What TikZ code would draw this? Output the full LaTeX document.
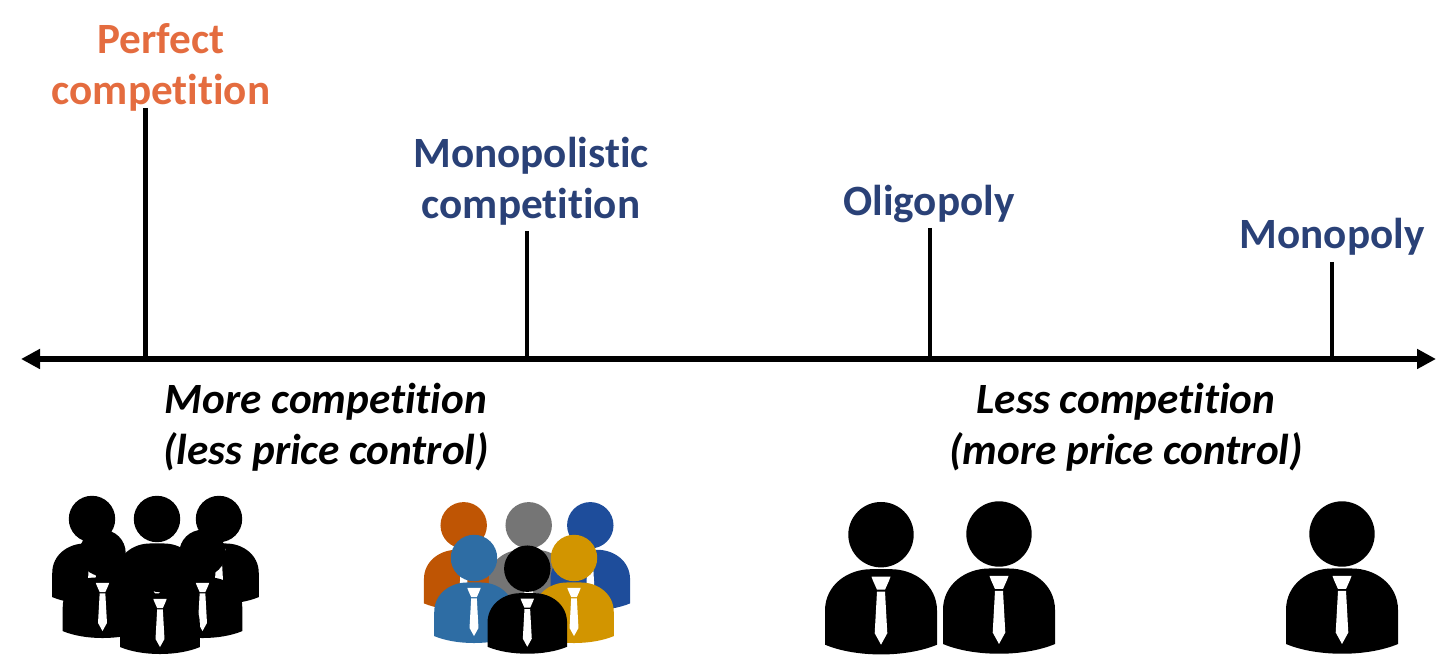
\documentclass[tikz,border=0pt]{standalone}
\usepackage{fontspec}
\setmainfont{Carlito}[Ligatures=NoCommon]
\usetikzlibrary{arrows.meta,positioning}

\definecolor{navy}{HTML}{2A4177}
\definecolor{coral}{HTML}{E46C3F}
\definecolor{rust}{HTML}{BF5504}
\definecolor{slate}{HTML}{757575}
\definecolor{royal}{HTML}{1E4D9B}
\definecolor{steel}{HTML}{2E6DA4}
\definecolor{gold}{HTML}{D29500}

\tikzset{
  market/.style={text=navy,font=\fontsize{21.6}{25.5}\selectfont\bfseries,align=center,inner sep=0pt},
  effect/.style={text=black,font=\fontsize{21.6}{25.5}\selectfont\bfseries\itshape,align=center,inner sep=0pt},
  tick/.style={line width=2.1pt},
  axis/.style={line width=3pt,{Triangle[length=9.5pt,width=9.5pt]}-{Triangle[length=9.5pt,width=9.5pt]}},
  pics/person/.style={code={
    \fill[#1] (0,0) circle (32.7);
    \fill[#1] (-56,110) -- (-56,76) .. controls (-56,50) and (-33,34.5) .. (-10,34.5)
      -- (10,34.5) .. controls (33,34.5) and (56,50) .. (56,76) -- (56,110)
      .. controls (25,123) and (-25,123) .. (-56,110) -- cycle;
    \fill[white] (-9.5,42) -- (9.5,42) -- (8,46) -- (4,55) -- (-4,55) -- (-8,46) -- cycle;
    \fill[white] (-4,57) -- (4,57) -- (6.3,98.5) -- (0,110) -- (-6.3,98.5) -- cycle;
  }}
}

\begin{document}
\begin{tikzpicture}[x=0.5pt,y=-0.5pt]
  \useasboundingbox (0,0) rectangle (1456,656);

  \coordinate (left_end) at (21,359);
  \coordinate (right_end) at (1436,359);
  \draw[axis] (left_end) -- (right_end);

  \node[market,text=coral] (m_0) at (161,67) {Perfect\\competition};
  \node[market] (m_1) at (531,181) {Monopolistic\\competition};
  \node[market] (m_2) at (929,204) {Oligopoly};
  \node[market] (m_3) at (1332,237) {Monopoly};

  \coordinate (top_0) at (145.5,108);
  \coordinate (top_1) at (527,231);
  \coordinate (top_2) at (930,228);
  \coordinate (top_3) at (1332,262);

  \foreach \i in {0,1,2,3}
    \draw[tick] (top_\i) -- (top_\i |- left_end);

  \node[effect] (e_0) at (326,427) {More competition\\(less price control)};
  \node[effect] (e_1) at (1126,427) {Less competition\\(more price control)};

  % crowd of five, all black
  \foreach \x/\y in {92/519,219/519,157/519,102.5/553,202.5/553,160/569}
    \pic[scale=0.71] at (\x,\y) {person=black};

  % crowd of five, in colours
  \pic[scale=0.71] at (463.7,525.3) {person=rust};
  \pic[scale=0.71] at (528.7,525.3) {person=slate};
  \pic[scale=0.71] at (590.3,525.3) {person=royal};
  \pic[scale=0.71] at (474,558) {person=steel};
  \pic[scale=0.71] at (574,558) {person=gold};
  \pic[scale=0.71] at (527.3,568.7) {person=black};

  % two people and one
  \pic at (881,534.7) {person=black};
  \pic at (999,534) {person=black};
  \pic at (1342,534) {person=black};
\end{tikzpicture}
\end{document}
